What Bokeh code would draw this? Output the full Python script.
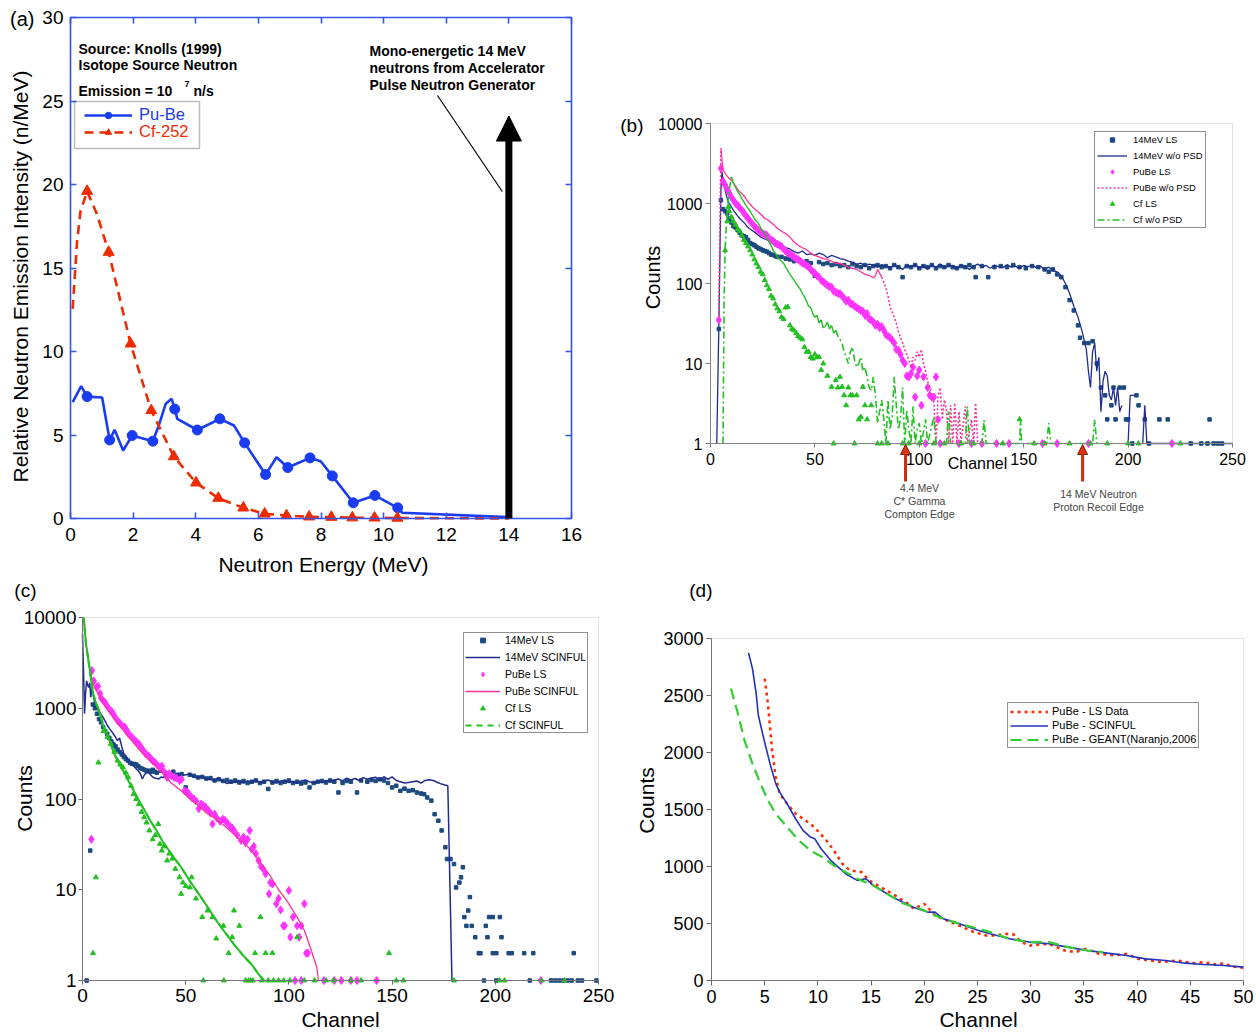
import math
from bokeh.plotting import figure
from bokeh.layouts import column, row
from bokeh.models import (Range1d, LinearAxis, LogAxis, FixedTicker, NumeralTickFormatter,
                          Label, Legend, LegendItem, Arrow, NormalHead, BoxAnnotation)
from bokeh.embed import file_html
from bokeh.resources import INLINE

NaN = float("nan")
FONT = "Liberation Sans"

# ======================= DATA =======================
# ---- panel (a): isotope source spectra ----
a_xticks = [0, 2, 4, 6, 8, 10, 12, 14, 16]
a_yticks = [0, 5, 10, 15, 20, 25, 30]
pube_line_E = [0.07, 0.34, 0.53, 1.01, 1.25, 1.41, 1.68, 1.97, 2.2, 2.63, 2.82, 3.04, 3.23, 3.33, 3.41,
               4.05, 4.77, 5.22, 5.56, 6.23, 6.58, 6.94, 7.65, 7.99, 8.36, 9.03, 9.72, 10.45, 10.6, 13.95]
pube_line_I = [6.97, 7.93, 7.3, 7.25, 4.7, 5.31, 4.07, 4.97, 4.85, 4.63, 5.57, 6.87, 7.17, 6.55, 5.97,
               5.3, 5.97, 5.57, 4.53, 2.63, 3.67, 3.05, 3.63, 3.43, 2.55, 0.94, 1.38, 0.64, 0.34, 0.08]
pube_mark_E = [0.53, 1.25, 1.97, 2.63, 3.33, 4.05, 4.77, 5.56, 6.23, 6.94, 7.65, 8.36, 9.03, 9.72, 10.45]
pube_mark_I = [7.3, 4.7, 4.97, 4.63, 6.55, 5.3, 5.97, 4.53, 2.63, 3.05, 3.63, 2.55, 0.94, 1.38, 0.64]
cf_line_E = [0.07, 0.21, 0.32, 0.53, 0.85, 1.22, 1.92, 2.58, 3.3, 4.01, 4.72, 5.52, 6.2, 6.9, 7.62,
             8.33, 9.0, 9.71, 10.44, 14.0]
cf_line_I = [12.55, 16.6, 18.4, 19.6, 18.2, 15.95, 10.46, 6.47, 3.71, 2.14, 1.22, 0.64, 0.28, 0.18, 0.1,
             0.08, 0.05, 0.04, 0.03, 0.0]
cf_mark_E = [0.53, 1.22, 1.92, 2.58, 3.3, 4.01, 4.72, 5.52, 6.2, 6.9, 7.62, 8.33, 9.0, 9.71, 10.44]
cf_mark_I = [19.6, 15.95, 10.46, 6.47, 3.71, 2.14, 1.22, 0.64, 0.28, 0.18, 0.1, 0.08, 0.05, 0.04, 0.03]
mono_energy = 14.0
mono_arrow_top = 24.1
pointer_x = [11.72, 13.79]
pointer_y = [25.33, 19.58]

# ---- panel (b): measured spectra ----
bc_xticks = [0, 50, 100, 150, 200, 250]
bc_yticks = [1, 10, 100, 1000, 10000]
b14w_ch = [3, 4, 5, 5.5, 6, 7, 8, 9, 10, 11, 12, 13, 14,
           16, 18, 20, 22, 24, 26, 28, 30, 32, 34, 36, 38, 40, 42, 44, 46, 48, 50, 52, 54, 56, 58, 60, 62, 64, 66, 68,
           70, 72, 74, 76, 78, 80, 82, 84, 86, 88, 90, 92, 94, 96, 98, 100, 102, 104, 106, 108,
           110, 112, 114, 116, 118, 120, 122, 124, 126, 128, 130, 132, 134, 136, 138, 140, 142, 144, 146, 148,
           150, 152, 154, 156, 158, 160, 162, 164, 166, 168,
           170, 172, 174, 176, 178, 180,
           181, 182, 183, 184, 185, 186, 187, 188, 189, 190, 191, 192, 193, 194, 195, 196, 197, 198,
           200, 201, 203, 204, 207, 208, 209, 250]
b14w_val = [1, 30, 1500, 2500, 2000, 1470, 1150, 1000, 910, 820, 760, 700, 650,
            580, 500, 460, 420, 380, 360, 340, 320, 300, 310, 280, 270, 250, 240, 255, 230, 235, 225, 240, 230, 210, 225, 215, 205, 200, 190, 185,
            175, 180, 165, 175, 170, 160, 172, 165, 158, 170, 162, 150, 168, 160, 172, 158, 165, 150, 170, 160,
            175, 158, 165, 168, 155, 170, 162, 150, 165, 175, 160, 168, 155, 170, 162, 158, 172, 160, 165, 155,
            168, 162, 170, 158, 165, 150, 160, 145, 140, 125,
            100, 75, 52, 38, 25, 15,
            8, 5, 14, 18, 8, 12, 2.5, 6, 8, 7, 4, 3.5, 5, 3, 5, 2.5, 3, NaN,
            1, 4, 4, NaN, 1, 3, 1, 1]
b14s_ch = [4, 5, 6, 7, 8, 9, 10, 11, 12, 13, 14, 15, 16, 17, 18, 19, 20, 21, 22, 23, 24, 25, 26, 27, 28, 29, 30, 31, 32,
           34, 36, 38, 40, 42, 44, 46, 48, 50, 52, 54, 56, 58, 60, 62, 64, 66, 68, 70, 72, 74, 76, 78, 80, 82, 84, 86, 88,
           90, 92, 94, 96, 98, 100, 102, 104, 106, 108, 110, 112, 114, 116, 118, 120, 122, 124,
           126, 127, 130, 133, 136, 139, 142, 145, 148, 151, 154, 157,
           160, 162, 164, 166, 168, 170, 172, 174, 176,
           177, 179, 181, 183, 185, 187, 189, 190, 192, 193, 194, 196, 198, 199, 200, 202, 204, 205, 208, 210,
           215, 219, 230, 235, 238, 239, 241, 243, 245]
b14s_val = [27, 1100, 850, 800, 750, 650, 580, 520, 500, 465, 430, 400, 390, 380, 350, 320, 310, 300, 288, 275,
            270, 260, 255, 250, 240, 230, 228, 220, 215,
            215, 205, 200, 190, 195, 185, 190, 180, 125, 185, 175, 180, 170, 175, 165, 170, 160, 175, 165, 160,
            170, 155, 165, 170, 160, 165, 155, 170, 160, 120, 165, 160, 170, 155, 165, 160, 170, 155, 165, 160,
            170, 160, 155, 165, 160, 170,
            160, 120, 165, 120, 160, 165, 160, 170, 160, 155, 165, 160,
            150, 140, 150, 130, 120, 90, 62, 46, 30,
            21, 18, 18, 19, 10, 5, 4, 2, 3, 5, 2, 5, 5, 2, 2, 1, 4, 3, 2, 1,
            2, 2, 1, 1, 1, 2, 1, 1, 1]
bPw_ch = [4, 5, 6, 7, 8, 9, 10, 11, 12, 13, 14, 15, 16, 17, 18, 19, 20,
          22, 24, 26, 28, 30, 32, 34, 36, 38, 40, 42, 44, 46, 48, 50, 52, 54, 56, 58, 60, 62, 64, 66, 68, 70, 72, 74, 76, 78,
          79, 80, 82, 84, 85, 86, 88,
          89, 90, 91, 92, 93, 94, 95, 96, 97, 98, 99, 100, 101, 102, 103, 104, 105, 106, 107, 108,
          109, 110, 111, 112, 113, 114, 115, 116, 117, 118, 119, 120,
          122, 123, 125, 126, 127, 128]
bPw_val = [38, 4900, 2600, 2400, 2200, 2050, 1960, 1800, 1650, 1500, 1400, 1330, 1250, 1150, 1050, 980, 910,
           820, 740, 650, 610, 550, 490, 450, 420, 380, 330, 300, 280, 265, 240, 225, 215, 205, 200, 190, 178,
           180, 170, 160, 155, 150, 140, 130, 126, 118,
           125, 150, 120, 88, 70, 51, 38,
           32, 25, 21, 18, 15, 13, 11, 9, 12, 11, 14, 12, 15, 10, 8, 6, 5, 4, 3.2, 1,
           4, 5, 2, 3.5, 2.6, 1, 3, 1, 3.2, 1, 2.5, 1,
           2.9, 1, 2, 1, 3.2, 1]
bPs_ch = list(range(4, 110)) + [110, 119, 125, 130, 137, 143, 159, 166, 181, 221]
bPs_val = [35, 2750, 1900, 1700, 1500, 1350, 1200, 1100, 1000, 950,
           880, 830, 760, 700, 650, 600, 560, 520, 490, 460,
           440, 420, 410, 400, 370, 350, 340, 320, 310, 300,
           290, 270, 255, 240, 235, 225, 215, 205, 200, 190,
           180, 175, 168, 162, 150, 140, 135, 125, 120, 110,
           105, 100, 95, 91, 90, 80, 78, 75, 75, 70,
           65, 60, 62, 56, 55, 52, 50, 48, 46, 45,
           40, 42, 36, 35, 33, 30, 31, 28, 29, 26,
           23, 22, 21, 19.6, 18, 15, 14.7, 13, 11, 10,
           7, 6.8, 7.5, 9, 3.8, 7, 8.3, 3, 6.8, 1,
           5, 4, 3.8, 3.8, 6.8, 2,
           1, 1, 1, 1, 1, 1, 1, 1, 1, 1]
bCw_ch = [6, 6.5, 7, 8, 9, 10,
          11, 12, 13, 14, 15, 16, 17, 18, 19, 20, 21, 22, 23, 24, 25, 26, 27, 28, 29, 30,
          31, 32, 33, 34, 35, 36, 37, 38, 39, 40, 41, 42, 43, 44, 45, 46, 47, 48, 49, 50,
          51, 52, 53, 54, 55, 56, 57, 58, 59, 60, 61, 62, 63, 64, 65, 66, 67, 68, 69, 70,
          71, 72, 73, 74, 75, 76, 77, 78, 79, 80, 81, 82, 83, 84, 85, 86, 87, 88, 89, 90,
          91, 92, 93, 94, 95, 96, 97, 98, 99, 100, 101,
          103, 104, 107, 108, 113, 114, 115, 122, 123, 124, 130, 131, 132, 148, 148.5, 149, 161, 162, 163, 183, 184, 185]
bCw_val = [1, 60, 260, 830, 1500, 2150,
           1800, 1600, 1400, 1300, 1150, 1050, 950, 870, 800, 720, 650, 600, 560, 500, 450, 420, 380, 330, 300, 260,
           240, 215, 200, 190, 178, 160, 145, 130, 120, 110, 100, 92, 85, 75, 68, 60, 52, 50, 42, 38,
           40, 32, 35, 28, 29, 33, 27, 30, 24, 26, 22, 20, 18, 14, 12, 10, 14, 16, 11, 9,
           10, 12, 8, 9, 6.8, 5, 4.6, 6.8, 4, 1.8, 2.5, 3.5, 2, 1, 3.5, 1.5, 2.15, 6.8, 3, 1.5,
           2, 5, 1, 2.6, 1.5, 1, 2.9, 1, 1.5, 1.8, 1,
           2, 1, 2.15, 1, 1, 2.5, 1, 1, 2.9, 1, 1, 1.96, 1, 1, 2, 1, 1, 1.8, 1, 1, 2, 1]
bCs_ch = [7, 8, 8.5, 9, 10, 11, 12, 13, 14, 15, 16, 17, 18, 19, 20, 21, 22, 23, 24, 25, 26, 27, 28, 29, 30,
          31, 32, 33, 34, 35, 36, 37, 38, 39, 40, 41, 42, 43, 44, 45, 46, 47, 48, 49, 50, 51, 52, 53, 54, 56, 58,
          59, 60, 61, 62, 63, 64, 65, 66, 67, 68, 69, 70, 71, 72, 73, 74, 75, 77,
          80, 82, 85, 92, 95, 100, 107, 112, 120, 126, 140, 148, 155, 160, 172, 182, 190, 200, 205, 225]
bCs_val = [260, 600, 910, 800, 680, 600, 540, 480, 450, 400, 350, 320, 290, 260, 230, 200, 178, 160, 140, 130,
           110, 95, 85, 70, 65, 55, 49, 45, 38, 36, 50, 51, 30, 27, 26, 24, 22, 21, 20, 16, 14, 14, 12, 11.5,
           13, 12, 12, 8.3, 10, 7, 5.1,
           1, 6.2, 5, 6.8, 5.1, 4, 3, 5, 4, 4, 1, 4, 2, 2.15, 5.1, 3, 2, 3,
           1, 1, 1, 1, 1, 1, 1, 1, 1, 1, 1, 2, 1, 1, 1, 1, 1, 1, 1, 1]
compton_edge_ch = 93.4
recoil_edge_ch = 178.2

# ---- panel (c): LS data vs SCINFUL ----
c14w_ch = [0, 0.5, 1, 1.5, 2, 2.5, 3, 3.5, 4, 4.5, 5,
           6, 7, 8, 9, 10, 11, 12, 13, 14, 15, 16, 17, 18, 19, 20, 21, 22, 23, 24, 25,
           26, 27, 28, 29, 30, 31, 32, 33, 34, 35, 36, 37, 38, 39, 40,
           42, 44, 46, 48, 50, 52, 54, 56, 58, 60, 62, 64, 66, 68, 70, 72, 74, 76, 78, 80,
           82, 84, 86, 88, 90, 92, 94, 96, 98, 100, 102, 104, 106, 108, 110, 112, 114, 116, 118, 120,
           122, 124, 126, 128, 130, 132, 134, 136, 138, 140, 142, 144, 146, 148, 150, 152, 154, 156, 158, 160,
           162, 164, 166, 168, 170, 172, 174, 176, 177, 179]
c14w_val = [6600, 2500, 870, 1500, 2000, 1800, 1700, 1900, 1320, 1700, 1500,
            1100, 1000, 920, 850, 790, 720, 650, 600, 560, 520, 480, 440, 470, 380, 315, 300, 270, 260, 243, 230,
            215, 205, 190, 166, 185, 195, 196, 185, 175, 170, 168, 166, 175, 172, 180,
            180, 175, 190, 180, 185, 188, 175, 172, 178, 168, 165, 160, 170, 158, 148, 155, 152, 160, 150, 158,
            152, 162, 150, 158, 162, 155, 150, 158, 160, 152, 156, 150, 158, 162, 155, 150, 158, 152, 160, 155,
            162, 166, 158, 170, 162, 168, 160, 172, 165, 170, 174, 160, 176, 165, 175, 160, 155, 150, 152, 155,
            158, 150, 160, 163, 160, 152, 146, 142, 140, 1]
c14s_ch = [2, 3.75,
           5, 6, 7, 8, 9, 10, 11, 12, 13, 14, 15, 16, 17, 18, 19, 20, 21, 22, 23, 24,
           25, 26, 27, 28, 29, 30, 31, 32, 33, 34, 35, 36,
           38, 40, 42, 44, 46, 48, 50, 52, 54, 56, 58, 60, 62, 64, 66, 68, 70, 72, 74, 76,
           78, 80, 82, 84, 86, 88, 90, 92, 94, 96, 98, 100, 102, 104, 106, 108, 110, 112, 114, 116,
           118, 120, 122, 124, 126, 128, 130,
           133, 135, 138,
           140, 142, 144, 146, 148, 150, 152, 154, 156, 158, 160, 162, 164,
           165.5, 167, 169, 170.6, 172.4, 174, 175.8, 176.6, 178.3, 180,
           181, 182.6, 183.4, 184.3, 185, 186, 186.9, 187.7, 188.6, 190.3,
           192, 192.8, 194.5, 195.4, 196.2, 197, 198.8, 198.8, 200.5, 200.5,
           202.2, 203, 206.5, 208, 214, 216.7, 218.4,
           227, 229, 231, 233, 235, 237, 238, 240, 242, 249]
c14s_val = [1, 27,
            1100, 1000, 870, 760, 700, 620, 560, 520, 470, 430, 400, 380, 350, 330, 310, 290, 275, 265, 250, 245,
            243, 240, 230, 220, 215, 210, 205, 205, 200, 210, 200, 195,
            205, 195, 190, 200, 185, 188, 134, 185, 180, 173, 175, 168, 170, 160, 165, 158, 162, 155, 160, 152,
            158, 150, 155, 160, 150, 155, 129, 152, 158, 150, 155, 160, 150, 155, 148, 152, 134, 150, 155, 158,
            152, 160, 155, 118, 150, 158, 155,
            118, 160, 155,
            162, 158, 165, 160, 150, 134, 140, 123, 130, 123, 125, 118, 115,
            113, 104, 96, 68, 57.6, 45, 29.4, 21.8, 21.8, 19.2,
            10.6, 12, 13.7, 17.7, 5, 4, 5.9, 8.3, 4, 3,
            2, 2, 1, 4, 3, 5, 5, 2, 2, 1,
            5, 3, 2, 2, 2, 1, 2,
            1, 1, 1, 1, 1, 1, 2, 1, 1, 1]
cPw_ch = [1.0, 1.7, 3.4, 5.1, 6.8, 8.5, 10, 12, 13.7, 16, 18.8, 21, 23.9, 27, 30.7, 35, 39.2, 43, 47.8, 52,
          56.3, 60, 64.8, 69, 73.4, 78, 82, 86, 90.4, 95, 99, 104, 107.5, 111, 113.5, 114.3]
cPw_val = [9000, 5100, 2800, 1850, 1550, 1320, 1150, 980, 870, 720, 620, 520, 440, 360, 290, 235, 188, 150, 123, 100,
           84.5, 70, 60, 50, 41, 33, 27, 20, 14.9, 10, 7.6, 5, 3.55, 2.1, 1.4, 1]
cPs_ch = [4.3, 4.6, 5.5, 6.8, 7.5, 8.5, 9, 10.2, 11, 12, 13.7, 14.5, 15.5, 17, 18, 19, 20.5, 21.5, 22.5, 23.9,
          25, 26, 27.3, 28.5, 29.5, 30.7, 32, 33, 34, 35, 36, 37.5, 38.5, 39.5, 41, 42, 43, 44.4, 45.5, 47,
          48, 49.5, 50.5, 51.5, 52.9, 54, 55, 56.3, 57.5, 58.5, 59.7, 61, 62, 63, 64, 65, 66.6, 68, 69, 70,
          71.5, 72.5, 73.4, 75, 76.8, 78, 79, 80, 81, 82, 83, 84, 85.3, 86.5, 87.5, 88.7, 90.4, 91, 92, 93.9,
          95, 96, 97.3, 98, 100, 100.7, 102, 104, 105, 106, 107.5, 108.4, 109.2, 103, 106, 117, 122, 125.4, 130, 133,
          142.5, 222]
cPs_val = [36, 2600, 2000, 1700, 1750, 1450, 1300, 1200, 1150, 1050, 940, 900, 820, 730, 690, 650, 620, 570, 520, 480,
           450, 430, 405, 370, 340, 315, 300, 280, 265, 255, 240, 223, 230, 200, 173, 190, 180, 173, 170, 160,
           165, 123, 120, 115, 104, 100, 95, 78, 88, 85, 81, 75, 70, 53, 68, 62, 57, 60, 58, 55,
           50, 48, 45, 40, 35, 38, 33, 36, 45, 28, 30, 25, 21, 18, 17, 15, 9, 12, 11.6, 7,
           8, 6, 4, 4, 9.8, 3, 5, 4, 3, 4, 7, 2, 2, 1, 1, 1, 1, 1, 1, 1,
           1, 1]
cCw_ch = [0.5, 1.7, 3.4, 5.1, 6.8, 8, 10, 12, 13.7, 15.4, 17, 18.8, 20.5, 22.2, 24.7, 27.3, 30, 32.4, 35.8, 39.2,
          43.5, 47.8, 52, 56.3, 60.5, 64.8, 69, 73.4, 77.7, 82, 85, 87.9]
cCw_val = [10000, 5100, 2800, 1440, 1100, 950, 640, 520, 400, 315, 265, 223, 190, 160, 125, 96, 75, 60, 45, 33,
           24, 17.7, 12.5, 9, 6.5, 4.6, 3.4, 2.5, 1.9, 1.5, 1.2, 1]
cCs_ch = [5.1, 6.5, 7.7, 10.2, 12, 13.7, 15.4, 17, 18.3, 19.6, 21, 22.2, 23.5, 24.7, 26, 27.3, 28.6, 29.9, 31, 32.4,
          34, 35.3, 36.7, 37.5, 38.4, 39.5, 41, 42, 43.5, 45, 47, 47.8, 48.6, 50, 52, 52.9, 55, 58, 60.6, 63,
          64.8, 68.3, 70.8, 72.5, 73.4, 76, 83.6, 86.2, 88.7, 92, 104, 148.5,
          58.5, 68.5, 79, 80.5, 81.5, 82.5, 87, 90, 92.5, 95, 97.5, 100.5, 107.5, 112.5, 118, 121.5, 130, 135,
          152, 155.5, 180, 202, 204.5, 222.5, 233.5]
cCs_val = [2, 13.7, 252, 560, 480, 405, 330, 265, 240, 223, 195, 173, 140, 113, 100, 88, 72, 63, 55, 45,
           36, 40, 53, 32, 27, 30, 21, 25, 22, 17, 13.7, 9, 12, 11, 10.6, 13.7, 8, 5, 5.9, 5,
           2.9, 4, 2, 3, 5.9, 4, 2, 5, 2, 2, 3, 2,
           1, 1, 1, 1, 1, 1, 1, 1, 1, 1, 1, 1, 1, 1, 1, 1, 1, 1,
           1, 1, 1, 1, 1, 1, 1]

# ---- panel (d): PuBe low-channel comparison ----
d_xticks = [0, 5, 10, 15, 20, 25, 30, 35, 40, 45, 50]
d_yticks = [0, 500, 1000, 1500, 2000, 2500, 3000]
dL_ch = [5.0, 5.3, 5.7, 6.04, 6.4, 7.1, 7.9, 8.6, 9.3, 10.1, 10.8, 11.5, 12.3, 13, 14.1, 14.8, 15.9, 17, 18.5, 19,
         20, 21, 22.5, 23.6, 24.7, 25.8, 26.6, 27.7, 28.4, 29.1, 29.9, 31.7, 33.2, 34.2, 35.2, 36.4, 37.9, 39, 40.1, 41.2,
         42.3, 43.8, 45.2, 46.3, 47.4, 48.2, 48.9, 50]
dL_val = [2648, 2429, 2019, 1785, 1639, 1551, 1463, 1419, 1375, 1302, 1229, 1141, 1024, 966, 951, 878, 819, 761, 673, 629,
          673, 571, 512, 468, 424, 395, 395, 410, 404, 337, 307, 322, 263, 249, 278, 234, 220, 234, 190, 176,
          161, 176, 152, 161, 140, 152, 123, 111]
dS_ch = [3.48, 3.85, 4.2, 4.4, 4.95, 5.5, 6.04, 6.4, 7.1, 7.9, 8.6, 9.3, 9.7, 10.3, 11.2, 12.6, 13.7, 14.5, 15.2, 17,
         18.9, 20.3, 21, 21.8, 23.3, 25.1, 26.2, 28, 29.9, 31.7, 33.5, 35.3, 37.2, 39, 40.8, 42.7, 44.5, 46.3, 48.2, 50]
dS_val = [2874, 2736, 2517, 2327, 2107, 1902, 1727, 1653, 1551, 1419, 1317, 1258, 1244, 1156, 1054, 937, 878, 893, 834, 732,
          644, 600, 600, 541, 497, 439, 410, 366, 337, 322, 293, 263, 240, 220, 190, 176, 152, 140, 132, 117]
dG_ch = [1.83, 2.4, 3.1, 3.85, 4.6, 5.3, 6.04, 7.1, 8.2, 9.3, 10.4, 11.5, 12.6, 13.7, 15.2, 17, 18.1, 19.6, 21.4, 23.3,
         25.1, 26.2, 28, 29.9, 31.7, 33.5, 35.3, 36.8]
dG_val = [2561, 2370, 2107, 1902, 1727, 1580, 1463, 1346, 1229, 1141, 1083, 1010, 951, 893, 834, 732, 673, 629, 556, 497,
          454, 424, 366, 337, 337, 293, 263, 249]

for _n, _a, _b in [("b14w", b14w_ch, b14w_val), ("b14s", b14s_ch, b14s_val), ("bPw", bPw_ch, bPw_val),
                   ("bPs", bPs_ch, bPs_val), ("bCw", bCw_ch, bCw_val), ("bCs", bCs_ch, bCs_val),
                   ("c14w", c14w_ch, c14w_val), ("c14s", c14s_ch, c14s_val), ("cPw", cPw_ch, cPw_val),
                   ("cPs", cPs_ch, cPs_val), ("cCw", cCw_ch, cCw_val), ("cCs", cCs_ch, cCs_val),
                   ("dL", dL_ch, dL_val), ("dS", dS_ch, dS_val), ("dG", dG_ch, dG_val),
                   ("pl", pube_line_E, pube_line_I), ("pm", pube_mark_E, pube_mark_I),
                   ("cl", cf_line_E, cf_line_I), ("cm", cf_mark_E, cf_mark_I)]:
    assert len(_a) == len(_b), (_n, len(_a), len(_b))

# ======================= STYLE =======================
A_AXIS = "#3355ee"
PUBE_BLUE = "#1a3cf0"
CF_RED = "#ee2a00"
NAVY = "#1f2d8f"
NAVY_DOT = "#1b4a7e"
MAGENTA = "#ff33ff"
PINK = "#ff3399"
GREEN = "#22c022"
GRAY_AX = "#7a7a7a"
OUTLINE = "#9a9a9a"
TEXT_GRAY = "#444444"


class Panel:
    """Whole-panel figure: the frame covers the panel, the plot box is an inner region
    at given page pixels; positions of texts are given in page pixels and mapped to data."""

    def __init__(self, fig_box, inner_box, xdom, ydom, ylog=False):
        self.fx0, self.fy0, self.fw, self.fh = fig_box
        self.il, self.it, self.ir, self.ib = inner_box
        self.xdom, self.ydom, self.ylog = xdom, ydom, ylog
        self.sx = (self.ir - self.il) / (xdom[1] - xdom[0])
        y0, y1 = (math.log10(ydom[0]), math.log10(ydom[1])) if ylog else ydom
        self.ly0, self.ly1 = y0, y1
        self.sy = (self.ib - self.it) / (y1 - y0)

    def dx(self, px):
        return self.xdom[0] + (px - self.il) / self.sx

    def dy(self, py):
        v = self.ly0 + (self.ib - py) / self.sy
        return 10 ** v if self.ylog else v

    def figure(self):
        xr = Range1d(self.dx(self.fx0), self.dx(self.fx0 + self.fw))
        yr = Range1d(self.dy(self.fy0 + self.fh), self.dy(self.fy0))
        p = figure(x_range=xr, y_range=yr, y_axis_type="log" if self.ylog else "linear",
                   x_axis_location=None, y_axis_location=None,
                   frame_width=self.fw, frame_height=self.fh,
                   min_border_left=0, min_border_right=0, min_border_top=0, min_border_bottom=0,
                   output_backend="svg", toolbar_location=None, tools="")
        p.grid.visible = False
        p.outline_line_color = None
        p.background_fill_color = "white"
        p.border_fill_color = "white"
        self.p = p
        return p

    def loc(self, left_px, bottom_px):
        return (left_px - self.fx0, self.fy0 + self.fh - bottom_px)

    def text(self, px, py, s, size, color="black", align="left", baseline="middle", angle=0.0, bold=False):
        self.p.add_layout(Label(x=self.dx(px), y=self.dy(py), text=s, text_font=FONT, text_font_size=size,
                                text_color=color, text_align=align, text_baseline=baseline, angle=angle,
                                text_font_style="bold" if bold else "normal"))


def add_axis(p, side, fixed, bounds, ticks, size, color, tick_in=0, tick_out=4, standoff=4, width=1.0,
             log=False, numeral=False, hide_labels=False):
    ax = (LogAxis if log else LinearAxis)(ticker=FixedTicker(ticks=ticks), fixed_location=fixed, bounds=bounds)
    ax.axis_line_color = color
    ax.axis_line_width = width
    ax.major_tick_line_color = color
    ax.major_tick_line_width = width
    ax.major_tick_in = tick_in
    ax.major_tick_out = tick_out
    ax.minor_tick_line_color = None
    ax.major_label_text_font = FONT
    ax.major_label_text_font_size = size
    ax.major_label_text_color = "black"
    ax.major_label_standoff = standoff
    if numeral:
        ax.formatter = NumeralTickFormatter(format="0")
    if hide_labels:
        ax.major_label_text_alpha = 0
        ax.major_label_text_font_size = "0px"
    p.add_layout(ax, side)
    return ax


def legend(items, loc, size, gw, lh, spacing, padding, standoff, color="black", border=True):
    lg = Legend(items=items, location=loc)
    lg.label_text_font = FONT
    lg.label_text_font_size = size
    lg.label_text_color = color
    lg.glyph_width = gw
    lg.glyph_height = lh
    lg.label_height = lh
    lg.spacing = spacing
    lg.padding = padding
    lg.margin = 0
    lg.label_standoff = standoff
    if border:
        lg.border_line_color = "#222222"
        lg.border_line_width = 1.5
        lg.background_fill_color = "white"
        lg.background_fill_alpha = 1
    else:
        lg.border_line_color = None
        lg.background_fill_alpha = 0
    return lg


# ======================= PANEL (a) =======================
A = Panel((0, 0, 620, 580), (70, 17, 571, 518), (0, 16), (0, 30))
pa = A.figure()
add_axis(pa, "below", 0, (0, 16), a_xticks, "19px", A_AXIS, 6, 0, 9, 1.6)
add_axis(pa, "left", 0, (0, 30), a_yticks, "19px", A_AXIS, 6, 0, 7, 1.6)
add_axis(pa, "above", 30, (0, 16), a_xticks, "0px", A_AXIS, 6, 0, 0, 1.6, hide_labels=True)
add_axis(pa, "right", 16, (0, 30), a_yticks, "0px", A_AXIS, 6, 0, 0, 1.6, hide_labels=True)

r_pl = pa.line(pube_line_E, pube_line_I, line_color=PUBE_BLUE, line_width=2.6)
r_pm = pa.scatter(pube_mark_E, pube_mark_I, marker="circle", size=10, fill_color=PUBE_BLUE, line_color=PUBE_BLUE)
r_cl = pa.line(cf_line_E, cf_line_I, line_color=CF_RED, line_width=2.6, line_dash="9 6")
r_cm = pa.scatter(cf_mark_E, cf_mark_I, marker="triangle", size=11, fill_color=CF_RED, line_color=CF_RED)
pa.line(pointer_x, pointer_y, line_color="black", line_width=1.2)
pa.add_layout(Arrow(end=NormalHead(size=25, fill_color="black", line_color="black"),
                    x_start=mono_energy, y_start=0, x_end=mono_energy, y_end=mono_arrow_top,
                    line_width=7, line_color="black"))

pa.add_layout(BoxAnnotation(left=A.dx(74), right=A.dx(199), top=A.dy(101), bottom=A.dy(148),
                            fill_alpha=0, line_color="#222222", line_width=1.5))
pa.add_layout(legend([LegendItem(label="Pu-Be", renderers=[r_pl, r_pm])], A.loc(84, 124), "16.5px", 48, 16, 0, 0, 7,
                     color=PUBE_BLUE, border=False))
pa.add_layout(legend([LegendItem(label="Cf-252", renderers=[r_cl, r_cm])], A.loc(84, 141), "16.5px", 48, 16, 0, 0, 7,
                     color=CF_RED, border=False))

A.text(78, 48, "Source: Knolls (1999)", "14px", bold=True)
A.text(78, 64, "Isotope Source Neutron", "14px", bold=True)
A.text(78, 90, "Emission = 10", "14px", bold=True)
A.text(184, 83, "7", "9px", bold=True)
A.text(193, 90, "n/s", "14px", bold=True)
A.text(369, 50, "Mono-energetic 14 MeV", "14px", bold=True)
A.text(369, 67, "neutrons from Accelerator", "14px", bold=True)
A.text(369, 84, "Pulse Neutron Generator", "14px", bold=True)
A.text(34, 18, "(a)", "20px", align="right")
A.text(20, 276, "Relative Neutron Emission Intensity (n/MeV)", "21px", align="center", angle=math.pi / 2)
A.text(323, 564, "Neutron Energy (MeV)", "21px", align="center")

# ======================= PANEL (b) =======================
B = Panel((620, 0, 640, 580), (710, 123, 1232, 443), (0, 250), (1, 10000), ylog=True)
pb = B.figure()
pb.add_layout(BoxAnnotation(left=0, right=250, bottom=1, top=10000, fill_alpha=0, line_color=OUTLINE, line_width=1))
add_axis(pb, "below", 1, (0, 250), bc_xticks, "16px", GRAY_AX, 0, 4, 5)
add_axis(pb, "left", 0, (1, 10000), bc_yticks, "16px", GRAY_AX, 0, 5, 3, log=True, numeral=True)

k_pw = bPw_ch.index(82)
k_cw0 = bCw_ch.index(10)
k_cw1 = bCw_ch.index(60)
rb1 = pb.scatter(b14s_ch, b14s_val, marker="square", size=3.5, color=NAVY_DOT)
rb2 = pb.line(b14w_ch, b14w_val, color=NAVY, line_width=1.3)
rb3 = pb.scatter(bPs_ch, bPs_val, marker="diamond", size=8, color=MAGENTA)
pb.line(bPw_ch[1:k_pw + 1], bPw_val[1:k_pw + 1], color=PINK, line_width=1.3)
pb.line(bPw_ch[:2], bPw_val[:2], color=PINK, line_width=1.6, line_dash="2 2")
rb4 = pb.line(bPw_ch[k_pw:], bPw_val[k_pw:], color=PINK, line_width=1.6, line_dash="2 2")
rb5 = pb.scatter(bCs_ch, bCs_val, marker="triangle", size=5, color=GREEN)
pb.line(bCw_ch[:k_cw0 + 1], bCw_val[:k_cw0 + 1], color=GREEN, line_width=1.6, line_dash="7 3 2 3")
pb.line(bCw_ch[k_cw0:k_cw1 + 1], bCw_val[k_cw0:k_cw1 + 1], color=GREEN, line_width=1.4)
rb6 = pb.line(bCw_ch[k_cw1:], bCw_val[k_cw1:], color=GREEN, line_width=1.6, line_dash="7 3 2 3")

pb.add_layout(legend([LegendItem(label="14MeV LS", renderers=[rb1]),
                      LegendItem(label="14MeV w/o PSD", renderers=[rb2]),
                      LegendItem(label="PuBe LS", renderers=[rb3]),
                      LegendItem(label="PuBe w/o PSD", renderers=[rb4]),
                      LegendItem(label="Cf LS", renderers=[rb5]),
                      LegendItem(label="Cf w/o PSD", renderers=[rb6])],
                     B.loc(1094, 228), "9.5px", 30, 11, 5, 2, 6))

for xe in (compton_edge_ch, recoil_edge_ch):
    pb.add_layout(Arrow(end=NormalHead(size=10, fill_color="#dd3311", line_color="#7a2000", line_width=1),
                        x_start=xe, y_start=B.dy(481), x_end=xe, y_end=B.dy(444),
                        line_width=3, line_color="#c83010"))
B.text(919, 487, "4.4 MeV", "10.5px", color=TEXT_GRAY, align="center")
B.text(919, 500, "C* Gamma", "10.5px", color=TEXT_GRAY, align="center")
B.text(919, 513, "Compton Edge", "10.5px", color=TEXT_GRAY, align="center")
B.text(1098, 493, "14 MeV Neutron", "10.5px", color=TEXT_GRAY, align="center")
B.text(1098, 506, "Proton Recoil Edge", "10.5px", color=TEXT_GRAY, align="center")
B.text(977, 463, "Channel", "16px", align="center")
B.text(652, 277, "Counts", "20px", align="center", angle=math.pi / 2)
B.text(643, 125, "(b)", "19px", align="right")

# ======================= PANEL (c) =======================
C = Panel((0, 580, 620, 452), (82, 617, 598, 980), (0, 250), (1, 10000), ylog=True)
pc = C.figure()
pc.add_layout(BoxAnnotation(left=0, right=250, bottom=1, top=10000, fill_alpha=0, line_color=OUTLINE, line_width=1))
add_axis(pc, "below", 1, (0, 250), bc_xticks, "19px", "#666666", 0, 4, 4)
add_axis(pc, "left", 0, (1, 10000), bc_yticks, "19px", "#666666", 0, 4, 2, log=True, numeral=True)

rc1 = pc.scatter(c14s_ch, c14s_val, marker="square", size=3.5, color=NAVY_DOT)
rc2 = pc.line(c14w_ch, c14w_val, color=NAVY, line_width=1.5)
rc3 = pc.scatter(cPs_ch, cPs_val, marker="diamond", size=8, color=MAGENTA)
rc4 = pc.line(cPw_ch, cPw_val, color=PINK, line_width=1.3)
rc5 = pc.scatter(cCs_ch, cCs_val, marker="triangle", size=5, color=GREEN)
rc6 = pc.line(cCw_ch, cCw_val, color=GREEN, line_width=2, line_dash="6 5")
pc.line(cCw_ch, cCw_val, color=GREEN, line_width=2)

pc.add_layout(legend([LegendItem(label="14MeV LS", renderers=[rc1]),
                      LegendItem(label="14MeV SCINFUL", renderers=[rc2]),
                      LegendItem(label="PuBe LS", renderers=[rc3]),
                      LegendItem(label="PuBe SCINFUL", renderers=[rc4]),
                      LegendItem(label="Cf LS", renderers=[rc5]),
                      LegendItem(label="Cf SCINFUL", renderers=[rc6])],
                     C.loc(463, 733), "10.5px", 35, 12, 5, 1, 5))
C.text(340, 1019, "Channel", "21px", align="center")
C.text(24, 798, "Counts", "21px", align="center", angle=math.pi / 2)
C.text(36, 590, "(c)", "19px", align="right")

# ======================= PANEL (d) =======================
D = Panel((620, 580, 640, 452), (711, 638, 1243, 980), (0, 50), (0, 3000))
pdd = D.figure()
pdd.add_layout(BoxAnnotation(left=0, right=50, bottom=0, top=3000, fill_alpha=0, line_color=OUTLINE, line_width=1))
add_axis(pdd, "below", 0, (0, 50), d_xticks, "18px", "#666666", 0, 5, 4)
add_axis(pdd, "left", 0, (0, 3000), d_yticks, "18px", "#666666", 0, 5, 3)

rd1 = pdd.line(dL_ch, dL_val, color="#ff2a00", line_width=2.5, line_dash="3 4")
rd2 = pdd.line(dS_ch, dS_val, color="#2233bb", line_width=1.6)
rd3 = pdd.line(dG_ch, dG_val, color="#33cc33", line_width=2.2, line_dash="11 6")
pdd.add_layout(legend([LegendItem(label="PuBe - LS Data", renderers=[rd1]),
                       LegendItem(label="PuBe - SCINFUL", renderers=[rd2]),
                       LegendItem(label="PuBe - GEANT(Naranjo,2006", renderers=[rd3])],
                      D.loc(1007, 748), "11px", 38, 11, 2, 2, 4))
D.text(978, 1019, "Channel", "21px", align="center")
D.text(646, 800, "Counts", "21px", align="center", angle=math.pi / 2)
D.text(712, 590, "(d)", "19px", align="right")

layout = column(row(pa, pb), row(pc, pdd))
open("out.html", "w").write(file_html(layout, INLINE))
